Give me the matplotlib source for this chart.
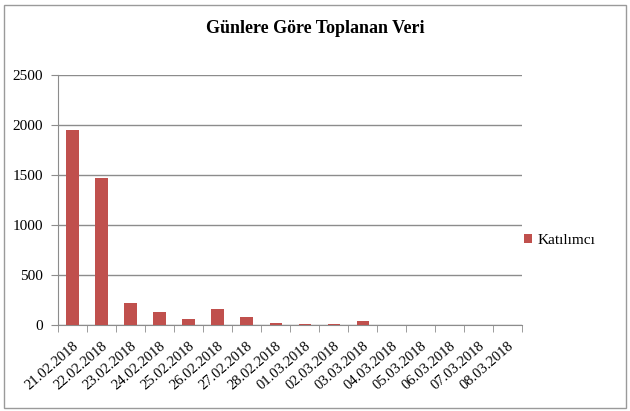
import matplotlib
matplotlib.use("Agg")
import matplotlib.pyplot as plt
import numpy as np
from matplotlib.patches import Rectangle

dates = ["21.02.2018", "22.02.2018", "23.02.2018", "24.02.2018", "25.02.2018",
         "26.02.2018", "27.02.2018", "28.02.2018", "01.03.2018", "02.03.2018",
         "03.03.2018", "04.03.2018", "05.03.2018", "06.03.2018", "07.03.2018",
         "08.03.2018"]
values = [1945, 1472, 217, 130, 57, 157, 77, 22, 15, 7, 37, 0, 0, 0, 0, 0]
series_name = "Katılımcı"
title = "Günlere Göre Toplanan Veri"
yticks = [0, 500, 1000, 1500, 2000, 2500]

plt.rcParams['font.family'] = ['Liberation Serif', 'DejaVu Serif']

fig = plt.figure(figsize=(6.30, 4.11), dpi=100)
fig.patches.append(Rectangle((0.006, 0.008), 0.988, 0.98, transform=fig.transFigure,
                             fill=False, edgecolor='#9a9a9a', linewidth=1.0))
ax = fig.add_axes([0.092, 0.209, 0.737, 0.609])

x = np.arange(len(dates))
ax.bar(x, values, width=0.42, color='#c0504d', label=series_name, zorder=3)

ax.set_xlim(-0.5, len(dates) - 0.5)
ax.set_ylim(0, 2500)
ax.set_yticks(yticks)
ax.set_yticklabels([str(v) for v in yticks], fontsize=11)
ax.yaxis.grid(True, color='#8c8c8c', linewidth=1.0, zorder=0)
ax.set_axisbelow(True)

ax.set_xticks(x)
ax.set_xticklabels(dates, rotation=41, ha='right', rotation_mode='anchor', fontsize=10.5)
ax.tick_params(axis='x', length=0, pad=10)
ax.set_xticks(np.arange(-0.5, len(dates) + 0.5, 1), minor=True)
ax.tick_params(axis='x', which='minor', length=5, color='#8c8c8c', direction='out')
ax.tick_params(axis='y', length=5, color='#8c8c8c', direction='out', pad=6)

for s in ['top', 'right']:
    ax.spines[s].set_visible(False)
for s in ['left', 'bottom']:
    ax.spines[s].set_color('#8c8c8c')

fig.text(0.5, 0.93, title, ha='center', va='center', fontsize=13, fontweight='bold')

leg = fig.legend(loc='center left', bbox_to_anchor=(0.81, 0.415), frameon=False,
                 fontsize=11, handlelength=0.55, handleheight=0.55, handletextpad=0.3)

fig.savefig("out.png", dpi=100)
